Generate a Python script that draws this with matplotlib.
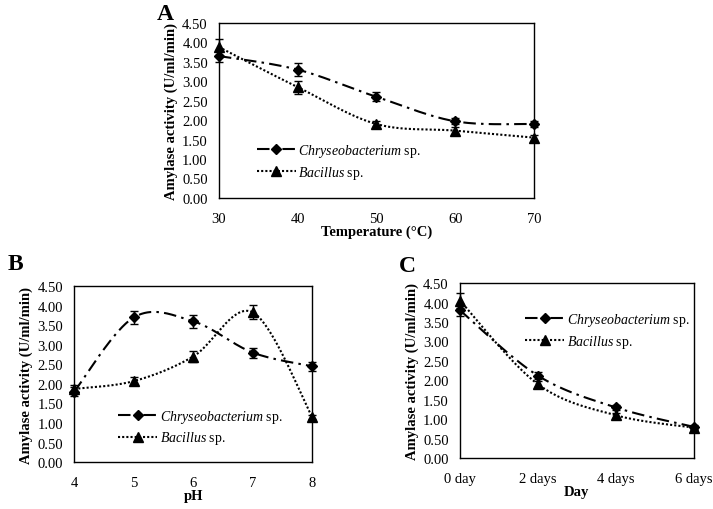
import numpy as np
import matplotlib
matplotlib.use("Agg")
import matplotlib.pyplot as plt

plt.rcParams['font.family'] = ['Liberation Serif', 'DejaVu Serif']
plt.rcParams['mathtext.fontset'] = 'custom'
plt.rcParams['mathtext.rm'] = 'Liberation Serif'
plt.rcParams['mathtext.it'] = 'Liberation Serif:italic'

# ---- data ----
temp_x = [30, 40, 50, 60, 70]
temp_chry = [3.65, 3.30, 2.60, 1.97, 1.90]
temp_chry_err = [0.15, 0.17, 0.12, 0.08, 0.08]
temp_bac = [3.88, 2.85, 1.90, 1.73, 1.55]
temp_bac_err = [0.20, 0.17, 0.08, 0.10, 0.08]

ph_x = [4, 5, 6, 7, 8]
ph_chry = [1.80, 3.70, 3.60, 2.80, 2.45]
ph_chry_err = [0.12, 0.17, 0.17, 0.13, 0.12]
ph_bac = [1.87, 2.07, 2.70, 3.83, 1.15]
ph_bac_err = [0.10, 0.10, 0.13, 0.18, 0.05]

day_x = [0, 2, 4, 6]
day_labels = ["0 day", "2 days", "4 days", "6 days"]
day_chry = [3.80, 2.12, 1.30, 0.80]
day_chry_err = [0.15, 0.08, 0.06, 0.05]
day_bac = [4.05, 1.90, 1.10, 0.78]
day_bac_err = [0.20, 0.08, 0.06, 0.05]

yticks = [0.0, 0.5, 1.0, 1.5, 2.0, 2.5, 3.0, 3.5, 4.0, 4.5]

chry_label = r"$\it{Chryseobacterium}$ sp."
bac_label = r"$\it{Bacillus}$ sp."


def smooth(x, y, n=40):
    x = np.asarray(x, float)
    y = np.asarray(y, float)
    P = np.column_stack([x, y])
    pts = []
    m = len(P)
    for i in range(m - 1):
        p0 = P[i - 1] if i > 0 else P[i]
        p1 = P[i]
        p2 = P[i + 1]
        p3 = P[i + 2] if i + 2 < m else P[i + 1]
        c1 = p1 + (p2 - p0) / 6.0
        c2 = p2 - (p3 - p1) / 6.0
        t = np.linspace(0, 1, n)[:, None]
        seg = ((1 - t) ** 3) * p1 + 3 * ((1 - t) ** 2) * t * c1 + 3 * (1 - t) * t ** 2 * c2 + t ** 3 * p2
        if i > 0:
            seg = seg[1:]
        pts.append(seg)
    pts = np.vstack(pts)
    return pts[:, 0], pts[:, 1]


CHRY_DASH = (6, 2.5, 1.2, 2.5)
BAC_DASH = (1, 1)


def panel(ax, x, chry, chry_err, bac, bac_err, xlabel, legend_loc):
    sx, sy = smooth(x, chry)
    ax.plot(sx, sy, color='black', lw=1.5, dashes=CHRY_DASH, zorder=2)
    sx, sy = smooth(x, bac)
    ax.plot(sx, sy, color='black', lw=1.5, dashes=BAC_DASH, zorder=2)
    ax.errorbar(x, chry, yerr=chry_err, fmt='D', color='black', ms=5.5, capsize=3,
                elinewidth=1, capthick=1, zorder=3, clip_on=False)
    ax.errorbar(x, bac, yerr=bac_err, fmt='^', color='black', ms=6.5, capsize=3,
                elinewidth=1, capthick=1, zorder=3, clip_on=False)
    h1, = ax.plot([], [], color='black', lw=1.5, dashes=CHRY_DASH, marker='D', ms=5.5)
    h2, = ax.plot([], [], color='black', lw=1.5, dashes=BAC_DASH, marker='^', ms=6.5)
    ax.legend([h1, h2], [chry_label, bac_label], loc='upper left', bbox_to_anchor=legend_loc,
              frameon=False, fontsize=10, handlelength=2.8, handletextpad=0.2,
              labelspacing=0.35, borderaxespad=0, borderpad=0)
    ax.set_ylim(0, 4.5)
    ax.set_yticks(yticks)
    ax.set_yticklabels([f"{v:.2f}" for v in yticks])
    ax.set_xlabel(xlabel, fontsize=10.5, fontweight='bold', labelpad=0)
    ax.set_ylabel("Amylase activity (U/ml/min)", fontsize=10.5, fontweight='bold', labelpad=3)
    ax.tick_params(axis='x', length=0, labelsize=10.5, pad=10)
    ax.tick_params(axis='y', length=0, labelsize=10.5, pad=8)
    for s in ax.spines.values():
        s.set_linewidth(1.0)
        s.set_color('black')


fig = plt.figure(figsize=(7.13, 5.10), dpi=100)

axA = fig.add_axes([0.307, 0.610, 0.442, 0.343])
panel(axA, temp_x, temp_chry, temp_chry_err, temp_bac, temp_bac_err,
      "Temperature (°C)", (0.12, 0.32))
axA.set_xlim(30, 70)
axA.set_xticks(temp_x)

axB = fig.add_axes([0.104, 0.092, 0.334, 0.345])
panel(axB, ph_x, ph_chry, ph_chry_err, ph_bac, ph_bac_err, "pH", (0.185, 0.31))
axB.set_xlim(4, 8)
axB.set_xticks(ph_x)

axC = fig.add_axes([0.645, 0.100, 0.328, 0.343])
panel(axC, day_x, day_chry, day_chry_err, day_bac, day_bac_err, "Day", (0.28, 0.84))
axC.set_xlim(0, 6)
axC.set_xticks(day_x)
axC.set_xticklabels(day_labels)

fig.text(165 / 713, 1 - 15 / 510, "A", fontsize=17, fontweight='bold', ha='center', va='center')
fig.text(15 / 713, 1 - 265 / 510, "B", fontsize=17, fontweight='bold', ha='center', va='center')
fig.text(407 / 713, 1 - 266 / 510, "C", fontsize=17, fontweight='bold', ha='center', va='center')

fig.savefig("out.png", dpi=100)
